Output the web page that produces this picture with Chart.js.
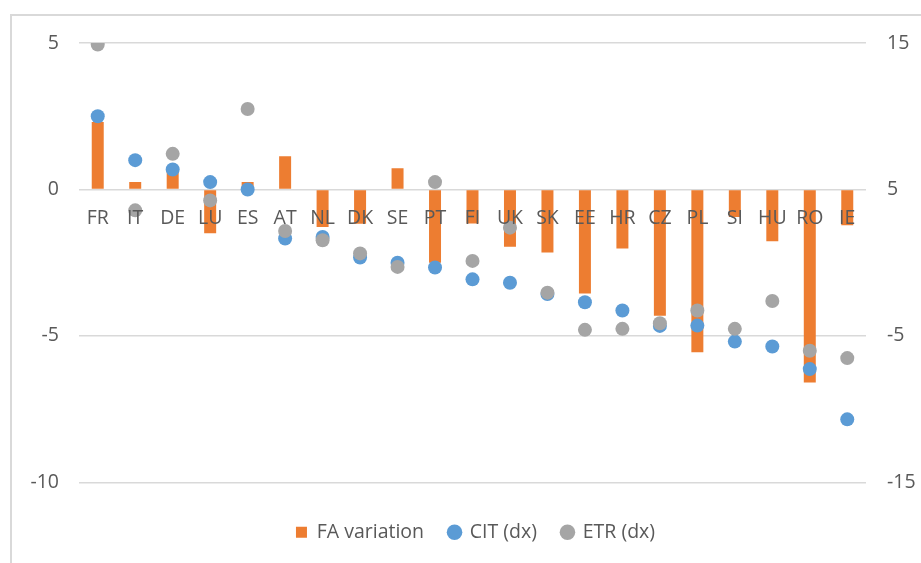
<!DOCTYPE html>
<html>
<head>
<meta charset="utf-8">
<script src="https://cdn.jsdelivr.net/npm/chart.js@4.4.1/dist/chart.umd.min.js"></script>
<style>
  body { margin: 0; background: #fff; }
  #frame { position: absolute; left: 10px; top: 14px; width: 1000px; height: 1000px;
           border-left: 2px solid #d9d9d9; border-top: 2px solid #d9d9d9; }
  #wrap { position: absolute; left: 0; top: 0; width: 921px; height: 563px; }
</style>
</head>
<body>
<div id="frame"></div>
<div id="wrap"><canvas id="chart" width="921" height="563"></canvas></div>
<script>
const countries = ["FR", "IT", "DE", "LU", "ES", "AT", "NL", "DK", "SE", "PT", "FI",
  "UK", "SK", "EE", "HR", "CZ", "PL", "SI", "HU", "RO", "IE"];
const faVariation = [2.3, 0.25, 0.6, -1.5, 0.25, 1.13, -1.28, -1.17, 0.72, -2.5, -1.16,
  -1.96, -2.15, -3.55, -2.02, -4.31, -5.56, -0.94, -1.77, -6.59, -1.22];
const cit = [10.0, 7.0, 6.36, 5.5, 5.0, 1.65, 1.76, 0.35, 0.0, -0.33, -1.14,
  -1.37, -2.14, -2.7, -3.27, -4.32, -4.3, -5.39, -5.73, -7.27, -10.7];
const etr = [14.9, 3.57, 7.43, 4.25, 10.49, 2.16, 1.53, 0.63, -0.29, 5.5, 0.12,
  2.39, -2.05, -4.59, -4.52, -4.14, -3.27, -4.52, -2.62, -6.02, -6.52];

const textColor = "#595959";
const font = { family: "Open Sans", size: 19.5 };

new Chart(document.getElementById("chart"), {
  data: {
    labels: countries,
    datasets: [
      {
        type: "bar",
        label: "FA variation",
        data: faVariation,
        backgroundColor: "#ED7D31",
        yAxisID: "y",
        barPercentage: 0.32,
        categoryPercentage: 1,
        pointStyle: "rect",
        order: 3
      },
      {
        type: "line",
        label: "CIT (dx)",
        data: cit,
        showLine: false,
        backgroundColor: "#5B9BD5",
        borderColor: "#5B9BD5",
        pointRadius: 7,
        pointBorderWidth: 0,
        pointStyle: "circle",
        yAxisID: "y1",
        order: 2
      },
      {
        type: "line",
        label: "ETR (dx)",
        data: etr,
        showLine: false,
        backgroundColor: "#A5A5A5",
        borderColor: "#A5A5A5",
        pointRadius: 7,
        pointBorderWidth: 0,
        pointStyle: "circle",
        yAxisID: "y1",
        order: 1
      }
    ]
  },
  options: {
    responsive: false,
    animation: false,
    layout: { padding: { left: 30, right: 0, top: 43, bottom: 11 } },
    plugins: {
      tooltip: { enabled: false },
      legend: {
        position: "bottom",
        // empty title only to push the legend row down a bit
        title: { display: true, text: "", font: { size: 1 }, padding: { top: 14, bottom: 0 } },
        labels: {
          usePointStyle: true,
          boxWidth: 11,
          boxHeight: 11,
          padding: 25,
          color: textColor,
          font: font,
          sort: (a, b) => a.datasetIndex - b.datasetIndex
        }
      }
    },
    scales: {
      x: {
        position: { y: 0 },
        grid: { display: false },
        border: { display: false },
        ticks: { z: 1, color: textColor, font: font, padding: 9, maxRotation: 0, autoSkip: false }
      },
      y: {
        position: "left",
        min: -10,
        max: 5,
        ticks: { stepSize: 5, color: textColor, font: font, padding: 20 },
        grid: { color: "#d9d9d9", lineWidth: 1.5, drawTicks: false },
        border: { display: false },
        afterFit: s => { s.width = 49; }
      },
      y1: {
        position: "right",
        min: -15,
        max: 15,
        ticks: { stepSize: 10, color: textColor, font: font, padding: 21 },
        grid: { display: false, drawTicks: false },
        border: { display: false },
        afterFit: s => { s.width = 55; }
      }
    }
  }
});
</script>
</body>
</html>
